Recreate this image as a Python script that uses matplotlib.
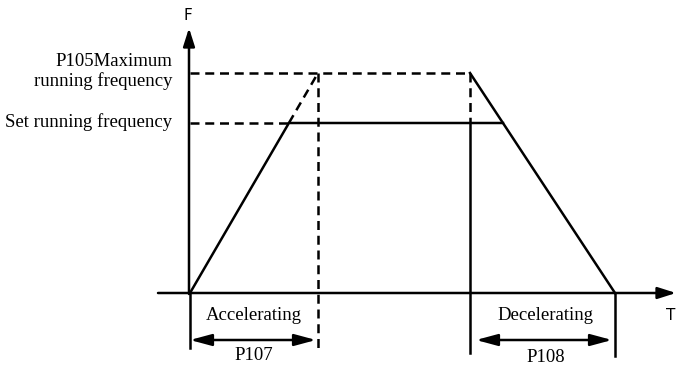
"""
Acceleration / deceleration diagram (P105, P107, P108).
"""

import matplotlib.pyplot as plt

# Values (time units along T, frequency units along F; origin at 0, 0)
f_max = 220          # P105 maximum running frequency
f_set = 170          # set running frequency
t_acc = 128          # end of P107 ramp (0 -> f_max)
t_dec0 = 280         # start of P108 ramp (f_max -> 0)
t_dec1 = 425         # end of P108 ramp
t_axis = (-32, 486)  # extent of the T axis
f_axis_top = 265     # top of the F axis arrow
tick_bottom = [(0, -55), (t_acc, -60), (t_dec0, -60), (t_dec1, -63)]

# where the ramps cross the set frequency
t_set_acc = t_acc * f_set / f_max
t_set_dec = t_dec0 + (t_dec1 - t_dec0) * (f_max - f_set) / f_max

serif = 'Liberation Serif'
fs = 13.5
lw = 1.8
dash = (0, (3.6, 2.3))

fig = plt.figure(figsize=(6.76, 3.66), dpi=100)
ax = fig.add_axes([0, 0, 1, 1])
ax.set_xlim(-190, 486)
ax.set_ylim(-73, 293)
ax.axis('off')

# axes with arrows
ax.annotate('', xy=(t_axis[1], 0), xytext=(t_axis[0], 0),
            arrowprops=dict(arrowstyle='-|>,head_length=1.1,head_width=0.35', color='black', lw=lw,
                            shrinkA=0, shrinkB=0))
ax.annotate('', xy=(-1, f_axis_top), xytext=(-1, -1),
            arrowprops=dict(arrowstyle='-|>,head_length=1.1,head_width=0.35', color='black', lw=lw,
                            shrinkA=0, shrinkB=0))
ax.text(-2, 278, 'F', fontsize=11, family='DejaVu Sans', ha='center', va='center')
ax.text(485, -22, 'T', fontsize=11, family='DejaVu Sans', ha='right', va='center')

# maximum frequency profile (dashed)
ax.plot([0, t_dec0], [f_max, f_max], color='black', lw=lw, ls=dash)
ax.plot([t_set_acc, t_acc], [f_set, f_max], color='black', lw=lw, ls=dash)
ax.plot([t_acc, t_acc], [f_max, tick_bottom[1][1]], color='black', lw=lw, ls=dash)
ax.plot([t_dec0, t_dec0], [f_max, f_set], color='black', lw=lw, ls=dash)
ax.plot([0, t_set_acc], [f_set, f_set], color='black', lw=lw, ls=dash)

# actual running profile (solid)
ax.plot([0, t_set_acc, t_set_dec], [0, f_set, f_set], color='black', lw=lw)
ax.plot([t_dec0, t_dec1], [f_max, 0], color='black', lw=lw)

# vertical markers below the time axis
ax.plot([0, 0], [0, tick_bottom[0][1]], color='black', lw=lw)
ax.plot([t_dec0, t_dec0], [f_set, tick_bottom[2][1]], color='black', lw=lw)
ax.plot([t_dec1, t_dec1], [0, tick_bottom[3][1]], color='black', lw=lw)

# left labels
ax.text(-18, 232, 'P105Maximum', fontsize=fs, family=serif, ha='right', va='center')
ax.text(-18, 212, 'running frequency', fontsize=fs, family=serif, ha='right', va='center')
ax.text(-18, f_set + 1, 'Set running frequency', fontsize=fs, family=serif, ha='right', va='center')

# accelerating / decelerating spans
ax.text(t_acc / 2, -22, 'Accelerating', fontsize=fs, family=serif, ha='center', va='center')
ax.text((t_dec0 + t_dec1) / 2 + 3, -22, 'Decelerating', fontsize=fs, family=serif, ha='center', va='center')
ax.annotate('', xy=(t_acc - 2, -47), xytext=(0, -47),
            arrowprops=dict(arrowstyle='<|-|>,head_length=1.3,head_width=0.35', color='black', lw=lw,
                            shrinkA=0, shrinkB=0))
ax.annotate('', xy=(t_dec1 - 3, -47), xytext=(t_dec0 + 6, -47),
            arrowprops=dict(arrowstyle='<|-|>,head_length=1.3,head_width=0.35', color='black', lw=lw,
                            shrinkA=0, shrinkB=0))
ax.text(t_acc / 2, -63, 'P107', fontsize=fs, family=serif, ha='center', va='center')
ax.text((t_dec0 + t_dec1) / 2 + 3, -64, 'P108', fontsize=fs, family=serif, ha='center', va='center')

fig.savefig('out.png', dpi=100)
